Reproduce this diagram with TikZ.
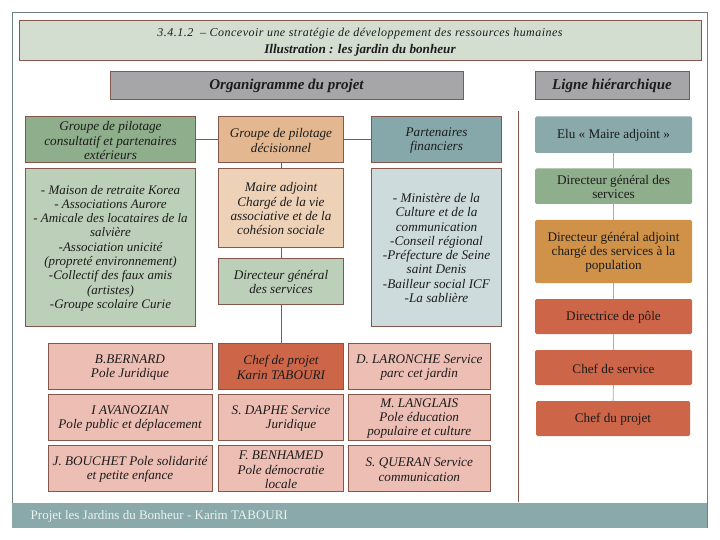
\documentclass[tikz,border=0pt]{standalone}
\usepackage{fontspec}
\setmainfont{Liberation Serif}
\newfontfamily\wideit[LetterSpace=4,ItalicFont={Liberation Serif Italic}]{Liberation Serif}
\definecolor{edge}{HTML}{85564C}
\definecolor{ink}{HTML}{1C1C1C}
\definecolor{hl}{HTML}{C4A48E}
\tikzset{
 base/.style={anchor=north west,inner sep=0pt,outer sep=0pt,align=center,text=ink,line width=0.9pt,draw=edge,
   font=\fontsize{13.2}{14.3}\selectfont\itshape},
 hbase/.style={base,draw=none,rounded corners=1.5pt,font=\fontsize{13.2}{14.3}\selectfont},
 headbox/.style={base,fill={rgb,255:red,166;green,166;blue,168},font=\fontsize{15}{16}\selectfont\bfseries\itshape},
 link/.style={draw=edge,line width=0.9pt},
 hlink/.style={draw=hl,line width=0.9pt},
 pink/.style={base,fill={rgb,255:red,237;green,190;blue,180}},
}
\newcommand{\bx}[7]{\node[#6,minimum width={(#4-#2)*1pt},minimum height={(#5-#3)*1pt}] (#1) at (#2,#3) {\rule{0pt}{11.2pt}#7};}
\begin{document}
\begin{tikzpicture}[x=1pt,y=-1pt]
\useasboundingbox (0,0) rectangle (720,540);
\fill[white] (0,0) rectangle (720,540);
\draw[draw=gray!85!teal,line width=0.9pt] (12.5,528) -- (12.5,12.5) -- (707,12.5) -- (707,528);
\bx{title}{19}{20.5}{701}{60.5}{base,fill={rgb,255:red,211;green,222;blue,208}}{\fontsize{12}{14}\selectfont\rule{0pt}{11.5pt}{\wideit\itshape 3.4.1.2 ~– Concevoir une stratégie de développement des ressources humaines}\\[2.5pt]\bfseries Illustration : les jardin du bonheur}
\bx{org}{110}{71.5}{463}{99.5}{headbox}{Organigramme du projet}
\bx{hier}{535}{71.5}{689}{99.5}{headbox}{Ligne hiérarchique}
\bx{cons}{25.5}{116.5}{195.5}{162.5}{base,fill={rgb,255:red,143;green,174;blue,139}}{Groupe de pilotage\\consultatif et partenaires\\extérieurs}
\bx{deci}{218.5}{116.5}{343.5}{162.5}{base,fill={rgb,255:red,227;green,183;blue,143}}{Groupe de pilotage\\décisionnel}
\bx{part}{371.5}{116.5}{501.5}{162.5}{base,fill={rgb,255:red,135;green,168;blue,170}}{Partenaires\\financiers}
\bx{mais}{25.5}{168}{195.5}{326}{base,font=\fontsize{13}{14.3}\selectfont\itshape,fill={rgb,255:red,188;green,207;blue,184}}{- Maison de retraite Korea\\- Associations Aurore\\- Amicale des locataires de la\\salvière\\-Association unicité\\(propreté environnement)\\-Collectif des faux amis\\(artistes)\\-Groupe scolaire Curie}
\bx{maire}{218.5}{168}{343.5}{247.5}{base,fill={rgb,255:red,237;green,210;blue,184}}{Maire adjoint\\Chargé de la vie\\associative et de la\\cohésion sociale}
\bx{dir}{218.5}{258}{343.5}{304.5}{base,fill={rgb,255:red,188;green,207;blue,184}}{Directeur général\\des services}
\bx{mini}{371.5}{168}{501.5}{326}{base,fill={rgb,255:red,206;green,219;blue,220}}{- Ministère de la\\Culture et de la\\communication\\-Conseil régional\\-Préfecture de Seine\\saint Denis\\-Bailleur social ICF\\-La sablière}
\bx{bern}{48}{343.5}{212}{389.5}{pink}{B.BERNARD\\Pole Juridique}
\bx{chef}{218.5}{343.5}{343.5}{389.5}{base,fill={rgb,255:red,205;green,101;blue,73}}{Chef de projet\\Karin TABOURI}
\bx{laro}{348}{343.5}{490.5}{389.5}{pink}{D. LARONCHE Service\\parc cet jardin}
\bx{avan}{48}{394.5}{212}{440.5}{pink}{I AVANOZIAN\\Pole public et déplacement}
\bx{daph}{218.5}{394.5}{343.5}{440.5}{pink}{S. DAPHE Service\\\hspace*{20pt}Juridique}
\bx{lang}{348}{394.5}{490.5}{440.5}{pink}{M. LANGLAIS\\Pole éducation\\populaire et culture}
\bx{bouc}{48}{445.5}{212}{491.5}{pink}{J. BOUCHET Pole solidarité\\et petite enfance}
\bx{benh}{218.5}{445.5}{343.5}{491.5}{pink}{F. BENHAMED\\Pole démocratie\\locale}
\bx{quer}{348}{445.5}{490.5}{491.5}{pink}{S. QUERAN Service\\communication}
\bx{h1}{535}{116.5}{692}{153}{hbase,fill={rgb,255:red,138;green,169;blue,171}}{Elu « Maire adjoint »}
\bx{h2}{535}{168.5}{692}{204}{hbase,fill={rgb,255:red,143;green,174;blue,139}}{Directeur général des\\services}
\bx{h3}{535}{220}{692}{283}{hbase,fill={rgb,255:red,207;green,146;blue,72}}{Directeur général adjoint\\chargé des services à la\\population}
\bx{h4}{535}{299}{692}{334}{hbase,fill={rgb,255:red,205;green,101;blue,73}}{Directrice de pôle}
\bx{h5}{535}{350}{692}{385}{hbase,fill={rgb,255:red,205;green,101;blue,73}}{Chef de service}
\bx{h6}{536}{401}{690}{436}{hbase,fill={rgb,255:red,205;green,101;blue,73}}{Chef du projet}
\path[link] (cons) -- (deci);
\path[link] (deci) -- (part);
\path[link] (deci) -- (maire);
\path[link] (maire) -- (dir);
\path[link] (dir) -- (chef);
\path[hlink] (h1) -- (h2);
\path[hlink] (h2) -- (h3);
\path[hlink] (h3) -- (h4);
\path[hlink] (h4) -- (h5);
\path[hlink] (h5) -- (h6);
\coordinate (sepA) at (518.5,111);
\coordinate (sepB) at (518.5,502);
\path[link] (sepA) -- (sepB);
\fill[fill={rgb,255:red,138;green,169;blue,171}] (11.5,503) rectangle (707,528);
\node[anchor=west,inner sep=0pt,text={rgb,255:red,235;green,242;blue,242},font=\fontsize{13}{14}\selectfont] (foot) at (30.5,516) {Projet les Jardins du Bonheur - Karim TABOURI};
\end{tikzpicture}
\end{document}
